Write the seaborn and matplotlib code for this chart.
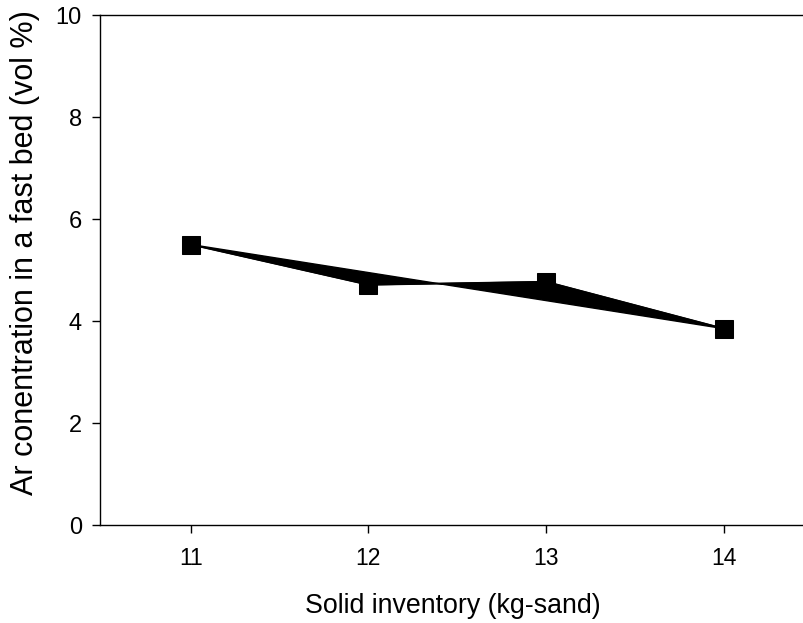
import matplotlib
matplotlib.use("Agg")
import matplotlib.pyplot as plt
import seaborn as sns
import pandas as pd

inventory = [11, 12, 13, 14]
ar_conc = [5.5, 4.71, 4.77, 3.85]
y_ticks = [0, 2, 4, 6, 8, 10]

sns.set_theme(style="white")
plt.rcParams['font.family'] = ['Liberation Sans', 'DejaVu Sans']

fig = plt.figure(figsize=(8.04, 6.23), dpi=100)
ax = fig.add_axes([100/804, 98/623, 1.0 - 100/804 + 0.002, 510/623])

df = pd.DataFrame({"x": inventory, "y": ar_conc})
ax.fill(df["x"], df["y"], color="black", zorder=2)
sns.lineplot(data=df, x="x", y="y", ax=ax, color="black", linewidth=1.3,
             marker="s", markersize=13, markeredgecolor="black", zorder=3)

ax.set_xlim(10.49, 14.46)
ax.set_ylim(0, 10)
ax.set_xticks(inventory)
ax.set_xticklabels([str(v) for v in inventory])
ax.set_yticks(y_ticks)
ax.set_yticklabels([str(v) for v in y_ticks])
ax.tick_params(axis="both", direction="out", length=6, width=1,
               colors="black", bottom=True, left=True)
ax.tick_params(axis="x", labelsize=16.5, pad=10)
ax.tick_params(axis="y", labelsize=17, pad=7)
for s in ax.spines.values():
    s.set_color("black")
    s.set_linewidth(1)
ax.set_xlabel("Solid inventory (kg-sand)", fontsize=19.3, color="black")
ax.set_ylabel("Ar conentration in a fast bed (vol %)", fontsize=22, color="black")
ax.xaxis.set_label_coords(0.5, -0.133)
ax.yaxis.set_label_coords(-0.085, 0.535)
ax.grid(False)

fig.savefig("out.png", dpi=100)
